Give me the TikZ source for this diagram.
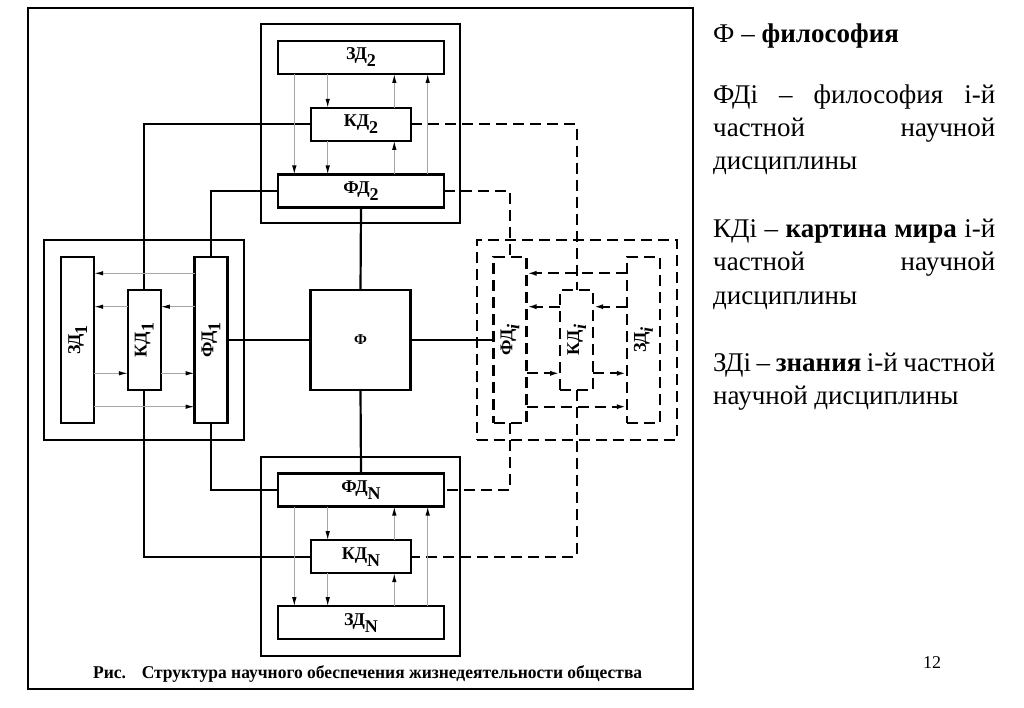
\documentclass[tikz,border=0pt]{standalone}
\usepackage{fontspec}
\setmainfont{Liberation Serif}
\usetikzlibrary{arrows.meta,calc}
\newcommand\dlabel[2]{\textbf{#1}\raisebox{-7pt}{\textbf{#2}}}
\begin{document}
\begin{tikzpicture}[x=1pt,y=-1pt,
  blk/.style={draw, line width=2.3pt, inner sep=0pt, outer sep=0pt, font=\fontsize{18}{20}\selectfont},
  dblk/.style={blk, dash pattern=on 11pt off 6pt},
  conn/.style={line width=2.2pt},
  dconn/.style={conn, dash pattern=on 11pt off 6pt},
  garr/.style={draw=gray!70, line width=1.1pt, -{Latex[length=9pt,width=4.5pt,black]}},
  darr/.style={line width=2.2pt, dash pattern=on 11pt off 6pt, -{Latex[length=10pt,width=5pt]}},
  rtext/.style={anchor=base west, inner sep=0pt, font=\fontsize{27}{32}\selectfont},
]
\useasboundingbox (0,0) rectangle (1024,708);
% frame
\node[draw, line width=2pt, inner sep=0pt, minimum width=664.7pt, minimum height=681pt] (frame) at (360.65,348.8) {};
% outer boxes
\node[blk, minimum width=199pt, minimum height=199pt] (top) at (360.5,123.5) {};
\node[blk, minimum width=199pt, minimum height=199pt] (bot) at (360.8,556.2) {};
\node[blk, minimum width=200pt, minimum height=200pt] (left) at (144.3,340) {};
\node[dblk, minimum width=200pt, minimum height=200pt] (right) at (576.7,340) {};
% top block
\node[blk, minimum width=166pt, minimum height=33pt] (ZD2) at (361,57.5) {\dlabel{ЗД}{2}};
\node[blk, minimum width=100pt, minimum height=33pt] (KD2) at (361,124.3) {\dlabel{КД}{2}};
\node[blk, minimum width=166pt, minimum height=33pt] (FD2) at (361,191) {\dlabel{ФД}{2}};
% bottom block
\node[blk, minimum width=166pt, minimum height=33pt] (FDN) at (361,490) {\dlabel{ФД}{N}};
\node[blk, minimum width=100pt, minimum height=33pt] (KDN) at (361,556.7) {\dlabel{КД}{N}};
\node[blk, minimum width=166pt, minimum height=33pt] (ZDN) at (361,622.7) {\dlabel{ЗД}{N}};
% left block
\node[blk, minimum width=33pt, minimum height=166pt] (ZD1) at (77.7,340) {\rotatebox{90}{\dlabel{ЗД}{1}}};
\node[blk, minimum width=33pt, minimum height=100pt] (KD1) at (144.3,340) {\rotatebox{90}{\dlabel{КД}{1}}};
\node[blk, minimum width=33pt, minimum height=166pt] (FD1) at (211,340) {\rotatebox{90}{\dlabel{ФД}{1}}};
% right block
\node[dblk, minimum width=33pt, minimum height=166pt] (FDi) at (510,340) {\rotatebox{90}{\dlabel{ФД}{\textit{i}}}};
\node[dblk, minimum width=33pt, minimum height=100pt] (KDi) at (576.7,340) {\rotatebox{90}{\dlabel{КД}{\textit{i}}}};
\node[dblk, minimum width=33pt, minimum height=166pt] (ZDi) at (643.3,340) {\rotatebox{90}{\dlabel{ЗД}{\textit{i}}}};
% centre
\node[blk, minimum width=100pt, minimum height=100pt, font=\fontsize{15}{17}\selectfont\bfseries] (F) at (360.5,340) {Ф};
% helper coordinates
\coordinate (xa) at (294.3,0);
\coordinate (xb) at (327.7,0);
\coordinate (xc) at (394.3,0);
\coordinate (xd) at (427.7,0);
\coordinate (ya) at (0,273.3);
\coordinate (yb) at (0,306.7);
\coordinate (yc) at (0,373.3);
\coordinate (yd) at (0,406.7);
% connectors
\draw[conn] (KD2.west) -| (KD1.north);
\draw[conn] (FD2.west) -| (FD1.north);
\draw[conn] (KD1.south) |- (KDN.west);
\draw[conn] (FD1.south) |- (FDN.west);
\draw[conn] (FD2.south) -- (F.north);
\draw[conn] (F.south) -- (FDN.north);
\draw[conn] (FD1.east) -- (F.west);
\draw[conn] (F.east) -- (FDi.west);
\draw[dconn] (KD2.east) -| (KDi.north);
\draw[dconn] (FD2.east) -| (FDi.north);
\draw[dconn] (FDi.south) |- (FDN.east);
\draw[dconn] (KDi.south) |- (KDN.east);
% top block arrows
\draw[garr] (ZD2.south -| xa) -- (FD2.north -| xa);
\draw[garr] (ZD2.south -| xb) -- (KD2.north -| xb);
\draw[garr] (KD2.south -| xb) -- (FD2.north -| xb);
\draw[garr] (FD2.north -| xc) -- (KD2.south -| xc);
\draw[garr] (KD2.north -| xc) -- (ZD2.south -| xc);
\draw[garr] (FD2.north -| xd) -- (ZD2.south -| xd);
% bottom block arrows
\draw[garr] (FDN.south -| xa) -- (ZDN.north -| xa);
\draw[garr] (FDN.south -| xb) -- (KDN.north -| xb);
\draw[garr] (KDN.south -| xb) -- (ZDN.north -| xb);
\draw[garr] (KDN.north -| xc) -- (FDN.south -| xc);
\draw[garr] (ZDN.north -| xc) -- (KDN.south -| xc);
\draw[garr] (ZDN.north -| xd) -- (FDN.south -| xd);
% left block arrows
\draw[garr] (FD1.west |- ya) -- (ZD1.east |- ya);
\draw[garr] (FD1.west |- yb) -- (KD1.east |- yb);
\draw[garr] (KD1.west |- yb) -- (ZD1.east |- yb);
\draw[garr] (ZD1.east |- yc) -- (KD1.west |- yc);
\draw[garr] (KD1.east |- yc) -- (FD1.west |- yc);
\draw[garr] (ZD1.east |- yd) -- (FD1.west |- yd);
% right block arrows
\draw[darr] (ZDi.west |- ya) -- (FDi.east |- ya);
\draw[darr] (ZDi.west |- yb) -- (KDi.east |- yb);
\draw[darr] (KDi.west |- yb) -- (FDi.east |- yb);
\draw[darr] (FDi.east |- yc) -- (KDi.west |- yc);
\draw[darr] (KDi.east |- yc) -- (ZDi.west |- yc);
\draw[darr] (FDi.east |- yd) -- (ZDi.west |- yd);
% caption
\node[anchor=base west, inner sep=0pt] (cap) at (93,678) {\resizebox{549pt}{\height}{\fontsize{18}{20}\selectfont\textbf{Рис.\hspace{0.9em}Структура научного обеспечения жизнедеятельности общества}}};
% right-hand text
\node[rtext] (t1) at (713,43) {Ф – \textbf{философия}};
\node[rtext] (t2) at (713,104) {\makebox[282pt][s]{ФДі – философия і-й}};
\node[rtext] (t3) at (713,137) {\makebox[282pt][s]{частной научной}};
\node[rtext] (t4) at (713,170) {дисциплины};
\node[rtext] (t5) at (713,238) {\makebox[282pt][s]{КДі – \textbf{картина мира} і-й}};
\node[rtext] (t6) at (713,271) {\makebox[282pt][s]{частной научной}};
\node[rtext] (t7) at (713,304) {дисциплины};
\node[rtext] (t8) at (713,371) {\makebox[282pt][s]{ЗДі – \textbf{знания} і-й частной}};
\node[rtext] (t9) at (713,404) {научной дисциплины};
% page number
\node[font=\fontsize{18}{20}\selectfont] (pg) at (932,663) {12};
\end{tikzpicture}
\end{document}
